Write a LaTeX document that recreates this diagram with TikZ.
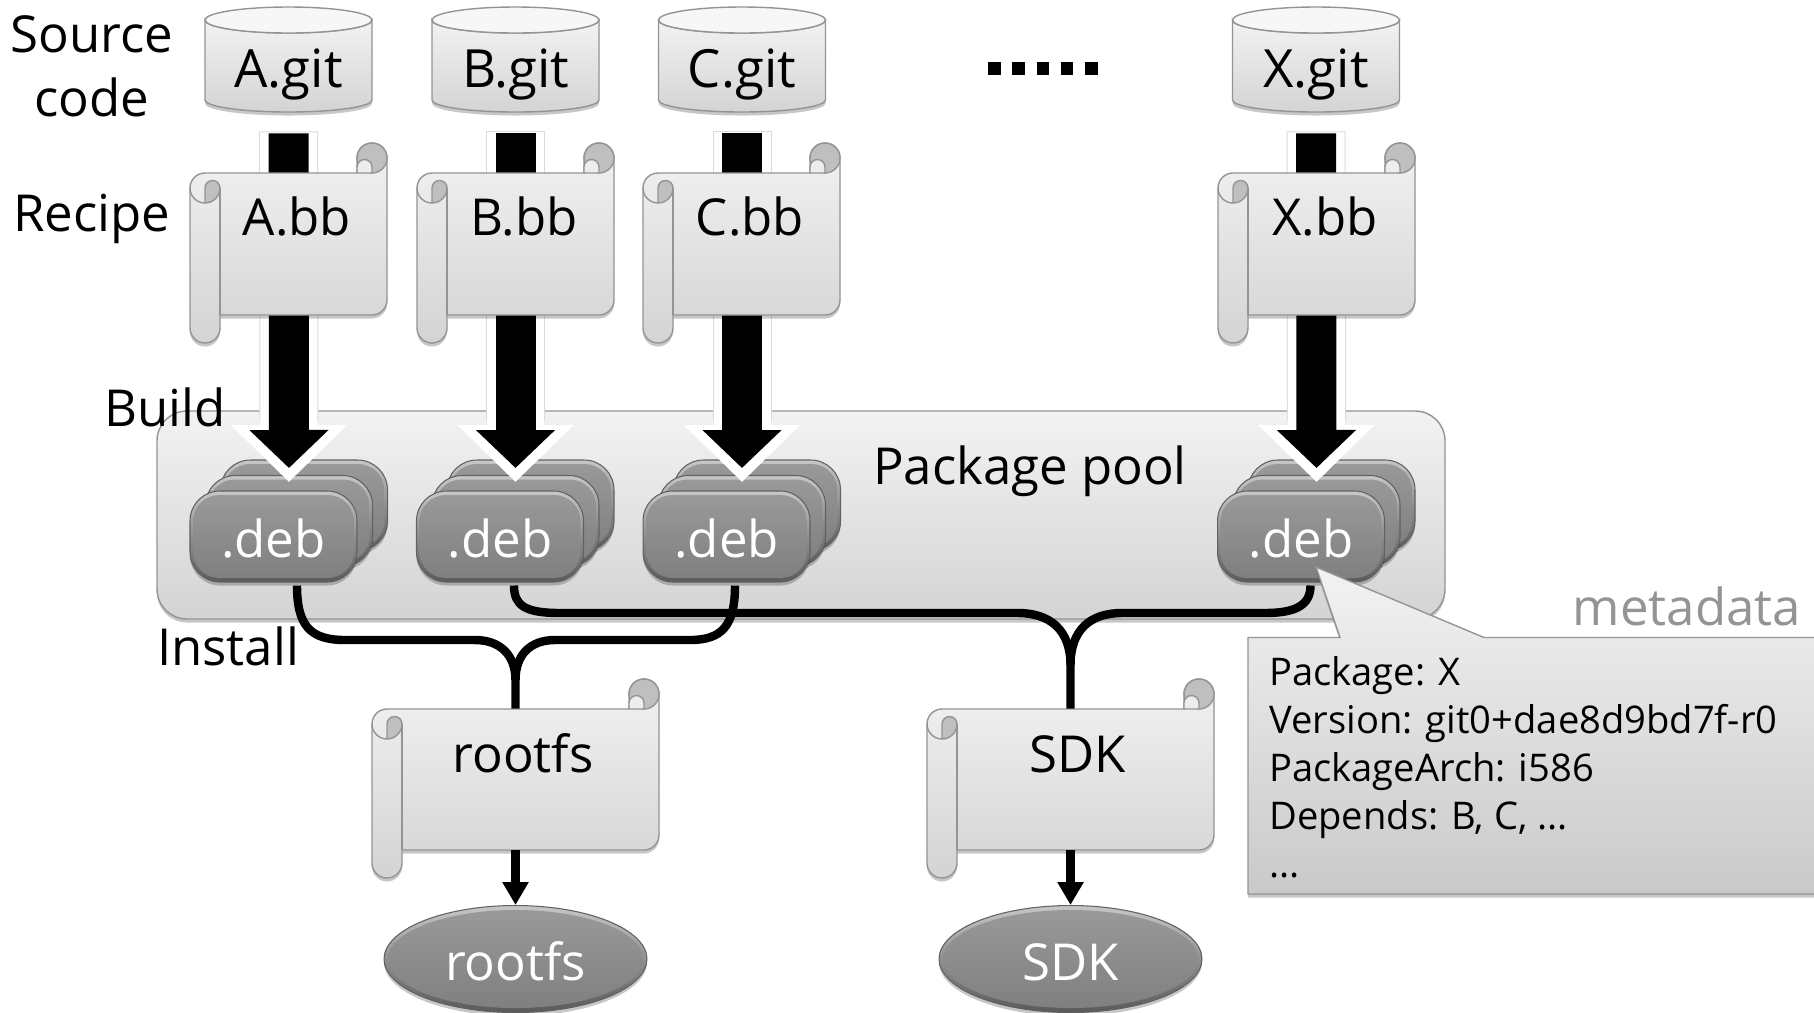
\documentclass[tikz,border=0pt]{standalone}
\usepackage{fontspec}
\setmainfont{Open Sans}
\usetikzlibrary{arrows.meta, shapes.geometric, shadows}

% Paper scroll: left edge, top edge, width, height, name of the node on its body
\newcommand{\scrollshape}[5]{
	\begin{scope}[shift={(#1,#2)}]
		\path[lightface, softshadow] (15,0) -- ({#3-30},0) -- ({#3-30},-15) arc[start angle=180,end angle=360,radius=15] -- ({#3},{#4-15}) arc[start angle=0,end angle=90,radius=15] -- (30,#4) -- (30,{#4+13}) arc[start angle=0,end angle=180,radius=15] -- (0,15) arc[start angle=180,end angle=270,radius=15] -- cycle;
		\draw[frame, fill=black!25] ({#3-15},-15) circle (15);
		\draw[frame, fill=black!7] ({#3-30},0) -- ({#3-30},-6) arc[start angle=180,end angle=360,radius=7.5] -- ({#3-15},0) -- cycle;
		\draw[frame, fill=black!25] (15,30) -- (15,15) arc[start angle=180,end angle=360,radius=7.5] arc[start angle=0,end angle=90,radius=15] -- cycle;
		\draw[frame] (0,15) arc[start angle=180,end angle=90,radius=15];
		\draw[frame] (30,15) -- (30,#4);
		\node[inner sep=0pt, minimum width={(#3)*0.02cm}, minimum height={(#4)*0.02cm}] (#5) at ({#3/2},{#4/2}) {};
	\end{scope}
}

% Dark package box with a bevel: centre x, centre y, name, text
\newcommand{\debbox}[4]{
	\node[debouter] (#3) at (#1,#2) {};
	\node[debinner] (#3text) at (#3.center) {#4};
}

\begin{document}
\begin{tikzpicture}[x=0.02cm, y=-0.02cm,
	every node/.style={font=\fontsize{29}{34}\selectfont},
	frame/.style={draw=black!42, line width=0.8pt},
	softshadow/.style={drop shadow={shadow xshift=0pt, shadow yshift=-2pt, opacity=.22, fill=black}},
	lightface/.style={frame, top color=black!5, bottom color=black!17},
	debouter/.style={rectangle, rounded corners=17pt, minimum width=3.34cm, minimum height=1.82cm, draw=black!62, line width=0.6pt, top color=black!22, bottom color=black!65, softshadow},
	debinner/.style={rectangle, rounded corners=15pt, minimum width=3.22cm, minimum height=1.66cm, top color=black!40, bottom color=black!50, text=white, text height=0.87cm},
	imagedisk/.style={shape=ellipse, minimum width=5.26cm, minimum height=2.14cm, inner sep=0pt, draw=black!62, line width=0.6pt, top color=black!22, bottom color=black!65, softshadow},
	imagecore/.style={shape=ellipse, minimum width=5.1cm, minimum height=1.96cm, inner sep=0pt, top color=black!40, bottom color=black!50, text=white, text height=0.87cm},
	buildarrow/.style={-{Triangle[length=0.76cm,width=1.54cm]}, line width=0.8cm, black},
	buildhalo/.style={-{Triangle[length=1.14cm,width=2.26cm]}, line width=1.14cm, white},
	installline/.style={line width=4.8pt, black},
	outarrow/.style={-{Triangle[length=0.46cm,width=0.5cm]}, line width=4.8pt, black}]

	\useasboundingbox (0,0) rectangle (1814,1012);

	% Package pool
	\path[lightface, softshadow, rounded corners=17pt] (157,411) rectangle (1445,619);
	\node[anchor=base] (poollabel) at (1030,484) {Package pool};

	% Stacks of packages, then the build arrows over them
	\foreach \name/\dx in {A/0, B/226.5, C/453, X/1027.5} {
		\debbox{{304+\dx}}{505.5}{debback\name}{}
		\debbox{{289+\dx}}{521}{debmid\name}{}
		\debbox{{273.5+\dx}}{536.5}{debfront\name}{.deb}
	}

	% Source repositories
	\foreach \name/\dx in {A/0, B/227, C/453.5, X/1027.5} {
		\begin{scope}[shift={({288.5+\dx},0)}]
			\path[lightface, softshadow] (-83.5,20) -- (-83.5,100) arc[start angle=180,end angle=0,x radius=83.5,y radius=12] -- (83.5,20) arc[start angle=0,end angle=180,x radius=83.5,y radius=13] -- cycle;
			\draw[frame, fill=black!3] (0,20) ellipse [x radius=83.5, y radius=13];
			\node[inner sep=0pt, minimum width=3.34cm, minimum height=2.1cm] (git\name) at (0,59.5) {};
			\node[anchor=base, font=\fontsize{30}{34}\selectfont] (gitlabel\name) at (0,87) {\name.git};
		\end{scope}
	}

	% Build arrows
	\foreach \name in {A, B, C, X} {
		\draw[line width=1.18cm, black!14, shorten <=0.38cm] (git\name.south) -- ([shift={(0,-54)}]debmid\name.north);
		\draw[buildhalo, shorten <=0.4cm, shorten >=-0.14cm] (git\name.south) -- (debmid\name.north);
		\draw[buildarrow, shorten <=0.42cm, shorten >=0.14cm] (git\name.south) -- (debmid\name.north);
	}

	% Recipes
	\foreach \name/\dx in {A/0, B/227, C/453, X/1028} {
		\scrollshape{{190+\dx}}{173}{197}{142}{bb\name}
		\node[anchor=base] (bblabel\name) at ({297+\dx},235) {\name.bb};
	}

	% Root file system and SDK
	\scrollshape{372}{709}{287}{141}{rootfsscroll}
	\node[anchor=base] (rootfslabel) at (523,772) {rootfs};
	\scrollshape{927}{709}{287}{141}{sdkscroll}
	\node[anchor=base] (sdklabel) at (1078,772) {SDK};

	% Install lines to rootfs
	\draw[installline] ([shift={(23.5,3)}]debfrontA.south) .. controls +(0,40) and (310,640) .. (345,640) -- (475,640) .. controls (500,640) and (515.5,655) .. (515.5,680) -- (rootfsscroll.north);
	\draw[installline] ([shift={(8.5,3)}]debfrontC.south) .. controls +(0,40) and (722,640) .. (690,640) -- (555,640) .. controls (530,640) and (515.5,655) .. (515.5,680);

	% Install lines to SDK
	\draw[installline] ([shift={(14,3)}]debfrontB.south) .. controls +(0,20) and (525,613) .. (560,613) -- (1018,613) .. controls (1050,613) and (1070.5,630) .. (1070.5,665) -- (sdkscroll.north);
	\draw[installline] ([shift={(9.5,3)}]debfrontX.south) .. controls +(0,20) and (1295,613) .. (1265,613) -- (1122,613) .. controls (1090,613) and (1070.5,630) .. (1070.5,665);

	\node[imagedisk] (rootfsdisk) at (515.5,959) {};
	\node[imagecore] (rootfscore) at (rootfsdisk.center) {rootfs};
	\node[imagedisk] (sdkdisk) at (1070.5,959) {};
	\node[imagecore] (sdkcore) at (sdkdisk.center) {SDK};
	\draw[outarrow] (rootfsscroll.south) -- (rootfsdisk.north);
	\draw[outarrow] (sdkscroll.south) -- (sdkdisk.north);

	% Metadata callout
	\node[anchor=base, text=black!42] (metalabel) at (1687,625) {metadata};
	\path[frame, top color=black!5, bottom color=black!21, softshadow] (1248,637.5) -- (1340,637.5) -- (1316,567) -- (1484,637.5) -- (1816,637.5) -- (1816,894) -- (1248,894) -- cycle;
	\node[anchor=north west, align=left, inner sep=0pt, font=\fontsize{21.7}{27.4}\selectfont] (metatext) at (1269,656) {Package: X\\Version: git0+dae8d9bd7f-r0\\PackageArch: i586\\Depends: B, C, ...\\...};

	% Row labels
	\node[anchor=base, align=center] (sourcelabel) at (92,52) {Source};
	\node[anchor=base] (codelabel) at (92,116) {code};
	\node[anchor=base] (recipelabel) at (92,231) {Recipe};
	\node[anchor=base] (buildlabel) at (165,426) {Build};
	\node[anchor=base] (installlabel) at (228,665) {Install};

	% Dots between the columns
	\foreach \n in {0,...,4} {
		\fill[black] ({988+\n*24.3},62) rectangle ++(12.5,12.5);
	}

\end{tikzpicture}
\end{document}
